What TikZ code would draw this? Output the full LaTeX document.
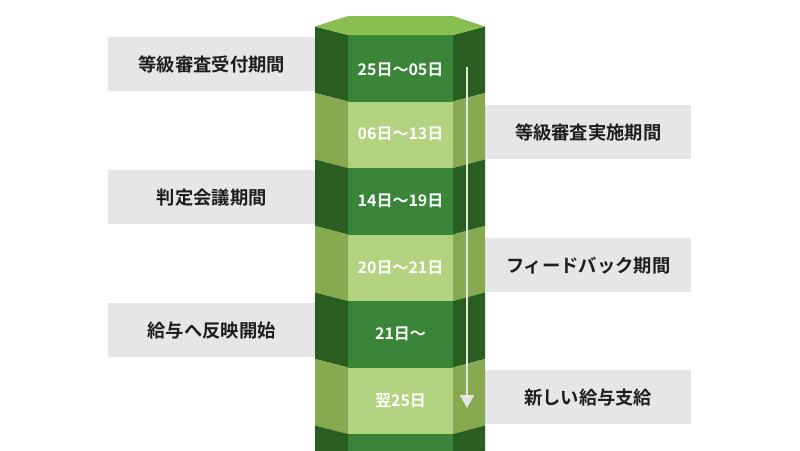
\documentclass[tikz,border=0pt]{standalone}
\usepackage{fontspec}
\setmainfont{Noto Sans CJK JP}[BoldFont={Noto Sans CJK JP Bold}]
\usetikzlibrary{arrows.meta}
\definecolor{dfront}{HTML}{3A8538}
\definecolor{dside}{HTML}{2A5E21}
\definecolor{lfront}{HTML}{B3D381}
\definecolor{lside}{HTML}{87A94F}
\definecolor{topc}{HTML}{88BF50}
\definecolor{boxc}{HTML}{E6E6E6}
\definecolor{txtc}{HTML}{1E1E1E}
\definecolor{arrc}{HTML}{E4E4E4}
\tikzset{
  labelbox/.style={fill=boxc, draw=none, minimum height=54pt, inner sep=0pt, font=\bfseries\fontsize{18.3}{21}\selectfont, text=txtc},
  leftbox/.style={labelbox, minimum width=207pt},
  rightbox/.style={labelbox, minimum width=206pt},
  daytext/.style={text=white, font=\bfseries\fontsize{16}{19}\selectfont, inner sep=0pt},
  flowarrow/.style={draw=arrc, line width=2.5pt, -{Triangle[width=14pt,length=13pt]}}
}
\begin{document}
\begin{tikzpicture}[x=1pt,y=-1pt]
\useasboundingbox (0,0) rectangle (800,450);
\clip (0,0) rectangle (800,450);
\fill[white] (0,0) rectangle (800,450);
% label boxes (left), drawn below the column
\node[leftbox, anchor=north west] (L1) at (108,37) {等級審査受付期間};
\node[leftbox, anchor=north west] (L2) at (108,170) {判定会議期間};
\node[leftbox, anchor=north west] (L3) at (108,303) {給与へ反映開始};
% right boxes
\node[rightbox, anchor=north west] (R1) at (485,105) {等級審査実施期間};
\node[rightbox, anchor=north west] (R2) at (485,238) {フィードバック期間};
\node[rightbox, anchor=north west] (R3) at (485,370) {新しい給与支給};
% column bands
\foreach \k/\fc/\sc in {0/dfront/dside,1/lfront/lside,2/dfront/dside,3/lfront/lside,4/dfront/dside,5/lfront/lside,6/dfront/dside}{
  \pgfmathsetmacro{\t}{35+66.5*\k}
  \pgfmathsetmacro{\b}{\t+66.5}
  \fill[\fc] (348,\t) rectangle (453,\b);
  \fill[\sc] (315,\t-8.5) -- (348,\t) -- (348,\b) -- (315,\b-8.5) -- cycle;
  \fill[\sc] (453,\t) -- (485,\t-8.5) -- (485,\b-8.5) -- (453,\b) -- cycle;
}
% top face
\fill[topc] (315,26.5) -- (348,16) -- (453,16) -- (485,26.5) -- (453,35) -- (348,35) -- cycle;
% day texts
\node[daytext] (D1) at (400.5,70) {25日～05日};
\node[daytext] (D2) at (400.5,134) {06日～13日};
\node[daytext] (D3) at (400.5,201) {14日～19日};
\node[daytext] (D4) at (400.5,268) {20日～21日};
\node[daytext] (D5) at (400.5,334) {21日～};
\node[daytext] (D6) at (400.5,401) {翌25日};
% arrow
\coordinate (AS) at (467,67);
\coordinate (AE) at (467,408);
\draw[flowarrow] (AS) -- (AE);
\end{tikzpicture}
\end{document}
